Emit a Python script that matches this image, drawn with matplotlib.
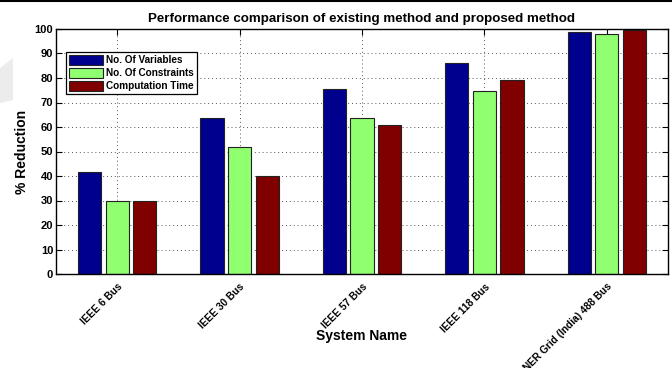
import matplotlib as mpl
mpl.use('Agg')
import matplotlib.pyplot as plt
from matplotlib.patches import Polygon
from matplotlib.lines import Line2D
import numpy as np

systems = ['IEEE 6 Bus', 'IEEE 30 Bus', 'IEEE 57 Bus', 'IEEE 118 Bus', 'NER Grid (India) 488 Bus']
variables = [41.5, 63.8, 75.6, 86.2, 98.8]
constraints = [29.8, 52.0, 63.8, 74.8, 98.0]
comp_time = [30.0, 40.2, 61.0, 79.3, 99.6]
series_names = ['No. Of Variables', 'No. Of Constraints', 'Computation Time']
colors = ['#00008f', '#90ff70', '#800000']

plt.rcParams['font.family'] = ['Liberation Sans', 'DejaVu Sans']

fig = plt.figure(figsize=(6.72, 3.68), dpi=100)
ax = fig.add_axes([56 / 672, 1 - 274 / 368, 612 / 672, 245 / 368])

x = np.arange(1, len(systems) + 1)
for i, (vals, name, c) in enumerate(zip([variables, constraints, comp_time], series_names, colors)):
    ax.bar(x + (i - 1) * 0.225, vals, 0.19, color=c, edgecolor='#222222',
           linewidth=0.8, label=name, zorder=2)

ax.set_xlim(0.5, 5.5)
ax.set_ylim(0, 100)
ax.set_yticks(range(0, 101, 10))
ax.set_xticks(x)
ax.set_xticklabels(systems, rotation=45, ha='right', rotation_mode='anchor',
                   fontsize=7.3, fontweight='bold')
for lab in ax.get_yticklabels():
    lab.set_fontsize(8)
    lab.set_fontweight('bold')

ax.grid(True, linestyle=(0, (1, 3)), color='#555555', linewidth=0.7, zorder=0)
ax.set_axisbelow(True)
ax.tick_params(direction='in', length=4, width=0.8, top=True, right=True, pad=2)
ax.tick_params(axis='x', pad=5.5)
for s in ax.spines.values():
    s.set_linewidth(1.0)

ax.set_title('Performance comparison of existing method and proposed method',
             fontsize=9.6, fontweight='bold', pad=5)
ax.set_xlabel('System Name', fontsize=10, fontweight='bold', va='center')
ax.xaxis.set_label_coords(0.5, -0.255)
ax.set_ylabel('% Reduction', fontsize=10, fontweight='bold', labelpad=4)

leg = ax.legend(loc='upper left', bbox_to_anchor=(0.016, 0.905),
                prop={'weight': 'bold', 'size': 7.2}, fancybox=False,
                framealpha=1, edgecolor='black', borderpad=0.3,
                handlelength=3.4, handleheight=1.05, labelspacing=0.3,
                handletextpad=0.3, borderaxespad=0)
leg.get_frame().set_linewidth(0.9)

# faint mark on the left margin and rule along the top edge
fig.patches.append(Polygon([[0, 1 - 68 / 368], [13 / 672, 1 - 58 / 368],
                            [13 / 672, 1 - 100 / 368], [0, 1 - 103 / 368]],
                           closed=True, transform=fig.transFigure,
                           facecolor='#ececec', edgecolor='none'))
fig.lines.append(Line2D([0, 1], [1 - 1 / 368, 1 - 1 / 368], transform=fig.transFigure,
                        color='black', linewidth=1.5))

fig.savefig('out.png', dpi=100)
